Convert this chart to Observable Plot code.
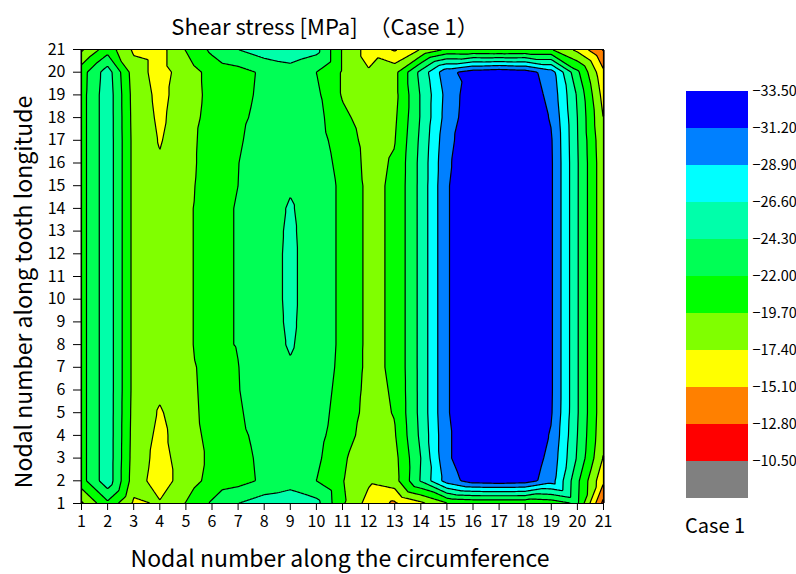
<!DOCTYPE html>
<html><head><meta charset="utf-8">
<script src="https://cdn.jsdelivr.net/npm/d3@7"></script>
<script src="https://cdn.jsdelivr.net/npm/@observablehq/plot@0.6"></script>
<style>
body{margin:0;background:#fff;}
#wrap{position:relative;width:796px;height:574px;font-family:"Noto Sans CJK JP","Noto Sans",sans-serif;color:#000;overflow:hidden;}
#wrap svg{position:absolute;}
.t{position:absolute;white-space:nowrap;line-height:1;}
</style></head><body><div id="wrap"></div><script>
// Node numbers
const nodesX = [1,2,3,4,5,6,7,8,9,10,11,12,13,14,15,16,17,18,19,20,21];
const nodesY = [1,2,3,4,5,6,7,8,9,10,11,12,13,14,15,16,17,18,19,20,21];
// Legend
const legendBreaks = [-33.5,-31.2,-28.9,-26.6,-24.3,-22.0,-19.7,-17.4,-15.1,-12.8,-10.5];
const legendColors = ["#0000ff","#0080ff","#00ffff","#00ffaa","#00ff55","#00ff00","#80ff00","#ffff00","#ff8000","#ff0000","#808080"];
// Shear stress [MPa], rows listed from node 21 (top) down to node 1 (bottom); columns are nodes 1..21
const row21 = [-17.0,-21.0,-17.0,-16.5,-19.8,-22.5,-24.3,-25.5,-26.0,-25.0,-19.5,-16.5,-14.8,-17.5,-20.0,-19.8,-19.6,-19.8,-19.8,-16.8,-12.5];
const row20 = [-21.0,-25.5,-18.5,-16.5,-18.5,-20.5,-21.2,-22.4,-23.2,-22.0,-19.5,-17.6,-19.0,-25.0,-30.5,-32.3,-32.8,-32.3,-30.0,-22.5,-15.5];
const row19 = [-21.1,-25.8,-18.8,-16.8,-18.5,-20.4,-21.3,-22.5,-23.5,-22.5,-19.5,-18.3,-19.0,-24.5,-29.7,-32.7,-33.0,-32.8,-30.5,-24.0,-16.5];
const row18 = [-21.1,-25.8,-18.9,-17.0,-18.6,-20.6,-21.5,-22.75,-23.7,-22.8,-20.2,-18.7,-19.3,-24.5,-29.9,-32.8,-33.1,-32.9,-31.0,-24.3,-17.3];
const row17 = [-21.1,-25.8,-19.0,-17.25,-18.7,-21.0,-21.7,-23.2,-23.9,-23.0,-20.8,-19.0,-19.6,-24.8,-30.5,-32.9,-33.2,-33.0,-31.4,-24.4,-17.8];
const row16 = [-21.1,-25.8,-19.0,-17.6,-18.8,-21.0,-21.95,-23.4,-24.0,-23.3,-21.2,-19.1,-19.9,-25.0,-30.8,-33.0,-33.3,-33.0,-31.5,-24.5,-18.0];
const row15 = [-21.1,-25.8,-19.0,-17.9,-18.9,-21.2,-22.0,-23.5,-24.15,-23.5,-21.5,-19.2,-20.0,-25.0,-31.0,-33.0,-33.3,-33.0,-31.5,-24.5,-18.0];
const row14 = [-21.1,-25.8,-19.0,-18.2,-19.0,-21.5,-22.1,-23.6,-24.45,-23.5,-21.5,-19.2,-20.0,-25.0,-31.0,-33.0,-33.3,-33.0,-31.5,-24.5,-18.0];
const row13 = [-21.1,-25.8,-19.0,-18.2,-19.0,-21.5,-22.1,-23.6,-24.55,-23.5,-21.5,-19.2,-20.0,-25.0,-31.0,-33.0,-33.3,-33.0,-31.5,-24.5,-18.0];
const row12 = [-21.1,-25.8,-19.0,-18.2,-19.0,-21.5,-22.1,-23.6,-24.6,-23.5,-21.5,-19.2,-20.0,-25.0,-31.0,-33.0,-33.3,-33.0,-31.5,-24.5,-18.0];
const row11 = [-21.1,-25.8,-19.0,-18.2,-19.0,-21.5,-22.1,-23.6,-24.6,-23.5,-21.5,-19.2,-20.0,-25.0,-31.0,-33.0,-33.3,-33.0,-31.5,-24.5,-18.0];
const row10 = [-21.1,-25.8,-19.0,-18.2,-19.0,-21.5,-22.1,-23.6,-24.6,-23.5,-21.5,-19.2,-20.0,-25.0,-31.0,-33.0,-33.3,-33.0,-31.5,-24.5,-18.0];
const row9  = [-21.1,-25.8,-19.0,-18.2,-19.0,-21.5,-22.1,-23.6,-24.55,-23.5,-21.5,-19.2,-20.0,-25.0,-31.0,-33.0,-33.3,-33.0,-31.5,-24.5,-18.0];
const row8  = [-21.1,-25.8,-19.0,-18.2,-19.0,-21.5,-22.1,-23.6,-24.45,-23.5,-21.5,-19.2,-20.0,-25.0,-31.0,-33.0,-33.3,-33.0,-31.5,-24.5,-18.0];
const row7  = [-21.1,-25.8,-19.0,-18.0,-18.8,-21.0,-21.95,-23.5,-24.15,-23.4,-21.4,-19.2,-20.0,-25.0,-31.0,-33.0,-33.3,-33.0,-31.5,-24.5,-18.0];
const row6  = [-21.1,-25.8,-19.0,-17.75,-18.7,-20.9,-21.9,-23.4,-23.9,-23.2,-21.2,-19.1,-19.9,-25.0,-31.0,-33.0,-33.3,-33.0,-31.5,-24.5,-18.0];
const row5  = [-21.1,-25.8,-18.9,-17.2,-18.6,-20.8,-21.7,-23.2,-23.8,-23.0,-21.0,-19.0,-19.8,-25.0,-31.0,-33.0,-33.3,-32.9,-31.4,-24.5,-18.0];
const row4  = [-21.1,-25.8,-18.8,-16.9,-18.5,-20.5,-21.5,-22.75,-23.5,-22.8,-20.6,-18.8,-19.5,-24.8,-30.8,-33.0,-33.2,-32.9,-31.0,-24.3,-17.8];
const row3  = [-21.1,-25.8,-18.7,-16.6,-18.5,-20.2,-21.3,-22.5,-23.2,-22.5,-20.0,-18.4,-19.0,-24.3,-30.8,-33.0,-33.2,-32.9,-30.5,-24.0,-17.2];
const row2  = [-21.1,-25.8,-18.5,-16.3,-18.5,-20.5,-21.2,-22.4,-23.2,-22.0,-19.8,-17.8,-18.8,-24.5,-30.0,-32.3,-32.6,-32.3,-30.0,-22.5,-15.5];
const row1  = [-17.0,-21.5,-17.0,-17.6,-19.8,-22.3,-24.3,-25.5,-26.0,-25.0,-20.0,-16.5,-14.7,-16.8,-19.5,-20.0,-20.0,-20.0,-20.5,-22.3,-12.0];
const gridRows = [row21,row20,row19,row18,row17,row16,row15,row14,row13,row12,row11,row10,row9,row8,row7,row6,row5,row4,row3,row2,row1];

const points = [];
gridRows.forEach((row, r) => row.forEach((v, c) => points.push({x: nodesX[c], y: nodesY[nodesY.length - 1 - r], v})));

const FONT = '"Noto Sans CJK JP","Noto Sans",sans-serif';
const colorScale = {type: "threshold", domain: legendBreaks.slice(1), range: legendColors};

const main = Plot.plot({
  width: 796, height: 574,
  marginLeft: 81, marginRight: 193, marginTop: 49, marginBottom: 71,
  x: {domain: [1, 21], label: null, axis: null},
  y: {domain: [1, 21], label: null, axis: null},
  color: colorScale,
  style: {fontFamily: FONT, fontSize: "16px", background: "transparent", color: "#000"},
  marks: [
    Plot.contour(points, {x: "x", y: "y", fill: "v", interpolate: "barycentric", thresholds: legendBreaks, stroke: "#000", strokeWidth: 1.2, pixelSize: 1}),
    Plot.frame({stroke: "#000", strokeWidth: 1}),
    Plot.axisX(nodesX, {tickSize: 7, tickPadding: 5, label: null, fontSize: 16}),
    Plot.axisY(nodesY, {tickSize: 8, tickPadding: 8, label: null, fontSize: 16})
  ]
});
main.style.left = "0px"; main.style.top = "0px";

const fmt = d3.format(".2f");
const legendH = 432, legendMT = 10, legendMB = 10;
const bandH = (legendH - legendMT - legendMB) / legendBreaks.length;
const legend = Plot.plot({
  width: 110, height: legendH,
  marginTop: legendMT, marginBottom: legendMB, marginLeft: 0, marginRight: 48,
  x: {axis: null},
  y: {type: "band", domain: legendBreaks, axis: null, padding: 0},
  color: colorScale,
  style: {fontFamily: FONT, fontSize: "14px", background: "transparent", color: "#000"},
  marks: [
    Plot.cell(legendBreaks, {y: d => d, fill: d => d, inset: 0}),
    Plot.text(legendBreaks, {y: d => d, text: d => fmt(d), frameAnchor: "right", textAnchor: "start", dx: 4, dy: -bandH / 2, fontSize: 14.5})
  ]
});
legend.style.left = "686px"; legend.style.top = "78px";

const wrap = document.getElementById("wrap");
wrap.appendChild(main);
wrap.appendChild(legend);

function addText(txt, css) {
  const d = document.createElement("div");
  d.className = "t"; d.textContent = txt;
  Object.assign(d.style, css);
  wrap.appendChild(d);
  return d;
}
addText("Shear stress [MPa]\u3000（Case 1）", {left: "325px", top: "14px", fontSize: "22px", transform: "translateX(-50%)"});
addText("Nodal number along the circumference", {left: "340px", top: "546px", fontSize: "23px", transform: "translateX(-50%)"});
addText("Nodal number along tooth longitude", {left: "22px", top: "292px", fontSize: "23px", transform: "translate(-50%,-50%) rotate(-90deg)"});
addText("Case 1", {left: "685px", top: "515px", fontSize: "20px"});
</script></body></html>
